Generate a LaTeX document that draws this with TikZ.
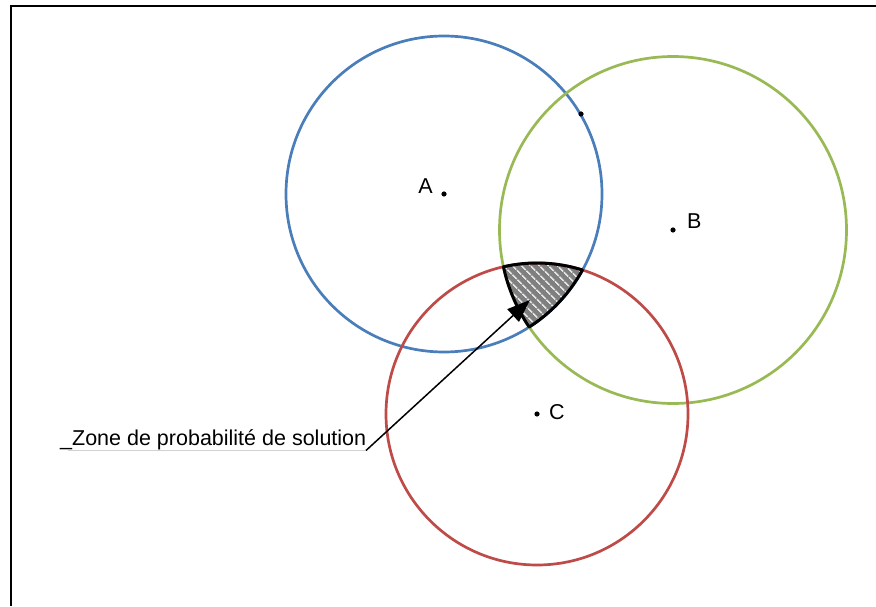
\documentclass[tikz,border=0pt]{standalone}
\usepackage{fontspec}
\setmainfont{Liberation Sans}
\usepackage{xcolor}
\usepackage{tikz}
\usetikzlibrary{positioning, calc, arrows.meta, patterns.meta}

\begin{document}
\begin{tikzpicture}[x=1pt, y=1pt,
    cercle/.style={line width=2.7pt},
    point/.style={fill=black},
    lettre/.style={inner sep=0pt, font=\fontsize{21.5}{26}\selectfont},
    fleche/.style={-{Triangle[length=23pt, width=17pt]}, line width=1.5pt}]
% --- COULEURS (THEME OFFICE) ---
\definecolor{bleu}{HTML}{4A7EBB}
\definecolor{vert}{HTML}{98B954}
\definecolor{rouge}{HTML}{BE4B48}
\definecolor{hachure}{HTML}{7F7F7F}

\useasboundingbox (0,0) rectangle (876,606);

% LAYER 0: Cadre (haut et gauche)
\draw[line width=2pt] (876,600) -- (11,600) -- (11,0);

% LAYER 1: Centres des trois cercles
\coordinate (A) at (444,412);
\coordinate (B) at (673,376);
\coordinate (C) at (537,192);

% LAYER 2: Zone commune (hachures)
\fill[hachure] (503.45,339.22) arc[start angle=102.84, end angle=72.47, radius=151pt]
  -- (582.5,336) arc[start angle=-28.76, end angle=-57.37, radius=158pt]
  -- (529.2,278.94) arc[start angle=214.02, end angle=192.24, radius=173.5pt] -- cycle;
\fill[pattern={Lines[angle=-45, distance=6.5pt, line width=1.8pt]}, pattern color=white!80!hachure]
  (503.45,339.22) arc[start angle=102.84, end angle=72.47, radius=151pt]
  -- (582.5,336) arc[start angle=-28.76, end angle=-57.37, radius=158pt]
  -- (529.2,278.94) arc[start angle=214.02, end angle=192.24, radius=173.5pt] -- cycle;

% LAYER 3: Cercles
\draw[cercle, color=bleu] (A) circle (158pt);
\draw[cercle, color=vert] (B) circle (173.5pt);
\draw[cercle, color=rouge] (C) circle (151pt);

% LAYER 4: Contour de la zone
\draw[line width=3pt, line join=round] (503.45,339.22) arc[start angle=102.84, end angle=72.47, radius=151pt]
  -- (582.5,336) arc[start angle=-28.76, end angle=-57.37, radius=158pt]
  -- (529.2,278.94) arc[start angle=214.02, end angle=192.24, radius=173.5pt] -- cycle;

% LAYER 5: Points et lettres
\fill[point] (A) circle (2.6pt);
\fill[point] (B) circle (2.6pt);
\fill[point] (C) circle (2.6pt);
\fill[point] (581,492) circle (2.6pt);
\node[lettre, anchor=base east] (labA) at (433,412) {A};
\node[lettre, anchor=base west] (labB) at (687,377) {B};
\node[lettre, anchor=base west] (labC) at (549,186) {C};

% LAYER 6: Legende et fleche
\node[lettre, anchor=base west] (zone) at (60,161) {\_Zone de probabilité de solution};
\coordinate (lien) at (366,155.5);
\coordinate (cible) at (530,306);
\draw[line width=1pt, color=black!18] (68,155.5) -- (lien);
\draw[fleche] (lien) -- (cible);
\end{tikzpicture}
\end{document}
